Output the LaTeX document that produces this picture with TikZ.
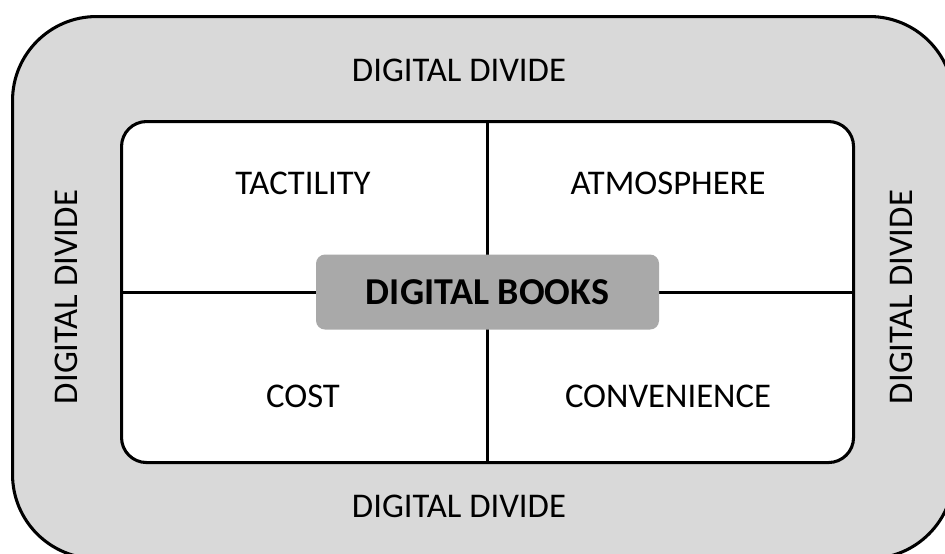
\documentclass[tikz,border=0pt]{standalone}
\usepackage{fontspec}
\setmainfont{Carlito}
\definecolor{dividegray}{HTML}{D9D9D9}
\definecolor{bookgray}{HTML}{A9A9A9}
\tikzset{
  label text/.style={font=\fontsize{26}{30}\selectfont, inner sep=0pt},
  frame line/.style={line width=2.3pt, draw=black},
}
\begin{document}
\begin{tikzpicture}[x=0.75pt,y=-0.75pt]
    \useasboundingbox (0,0) rectangle (945,553);
    \clip (0,0) rectangle (945,553);
    % outer band
    \node[frame line, fill=dividegray, rounded corners=63pt, minimum width=941*0.75pt, minimum height=542*0.75pt, anchor=north west] (outer) at (11,15) {};
    % inner field
    \node[frame line, fill=white, rounded corners=18.75pt, minimum width=732*0.75pt, minimum height=341*0.75pt, anchor=north west] (inner) at (120,120) {};
    \draw [frame line] (inner.north) -- (inner.south);
    \draw [frame line] (inner.west) -- (inner.east);
    \node[fill=bookgray, rounded corners=6.75pt, minimum width=343*0.75pt, minimum height=75*0.75pt] (books) at (inner.center) {};
    \node[label text, font=\fontsize{28.5}{32}\selectfont\bfseries] (bookstext) at (books.center) {DIGITAL BOOKS};
    % four factors
    \node[label text] (tactility) at (303,183) {TACTILITY};
    \node[label text] (atmosphere) at (668,183) {ATMOSPHERE};
    \node[label text] (cost) at (303,396) {COST};
    \node[label text] (convenience) at (668,396) {CONVENIENCE};
    % divide labels
    \node[label text] (dtop) at (459,70) {DIGITAL DIVIDE};
    \node[label text] (dbottom) at (459,506) {DIGITAL DIVIDE};
    \node[label text, rotate=90] (dleft) at (66,297) {DIGITAL DIVIDE};
    \node[label text, rotate=90] (dright) at (901,297) {DIGITAL DIVIDE};
\end{tikzpicture}
\end{document}
